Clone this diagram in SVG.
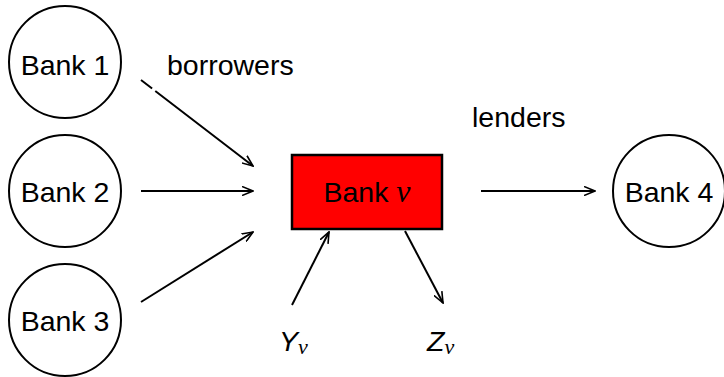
<svg xmlns="http://www.w3.org/2000/svg" width="724" height="377" viewBox="0 0 724 377">
<style>
.node circle{fill:#fff;stroke:#000;stroke-width:2}
.lbl{font-family:"Liberation Sans",Arial,sans-serif;font-size:28.5px;fill:#000}
.conn line{stroke:#000;stroke-width:2;marker-end:url(#ah)}
.nu{font-family:"Liberation Serif","Times New Roman",serif;font-style:italic}
</style>
<defs>
<marker id="ah" viewBox="0 0 12 10" refX="11" refY="5" markerWidth="12" markerHeight="10" markerUnits="userSpaceOnUse" orient="auto">
<path d="M0,0.5 L11,5 L0,9.5" fill="none" stroke="#000" stroke-width="1.6"/>
</marker>
</defs>
<rect width="724" height="377" fill="#fff"/>
<g id="bank1" class="node"><circle cx="65" cy="62" r="56"/><text class="lbl" x="65" y="75" text-anchor="middle">Bank 1</text></g>
<g id="bank2" class="node"><circle cx="65" cy="191" r="56"/><text class="lbl" x="65" y="202" text-anchor="middle">Bank 2</text></g>
<g id="bank3" class="node"><circle cx="65" cy="320" r="56"/><text class="lbl" x="65" y="331" text-anchor="middle">Bank 3</text></g>
<g id="bank4" class="node"><circle cx="669" cy="191" r="56"/><text class="lbl" x="669" y="202" text-anchor="middle">Bank 4</text></g>
<g id="bankv"><rect x="292" y="155" width="150" height="74" fill="#f00" stroke="#000" stroke-width="2.5"/><text class="lbl" x="367" y="202" text-anchor="middle">Bank <tspan class="nu" font-size="32">ν</tspan></text></g>
<g id="conns" class="conn">
<line x1="141" y1="80" x2="253" y2="166" stroke-dasharray="14 4 300"/>
<line x1="141" y1="191" x2="253" y2="191"/>
<line x1="141" y1="302" x2="253" y2="232"/>
<line x1="481" y1="191" x2="595" y2="191"/>
<line x1="292" y1="305" x2="329" y2="232"/>
<line x1="405" y1="231" x2="443" y2="303"/>
</g>
<text class="lbl" x="167" y="75">borrowers</text>
<text class="lbl" x="472" y="127">lenders</text>
<text class="lbl" x="279" y="351" font-style="italic">Y<tspan class="nu" font-size="22" dy="3">ν</tspan></text>
<text class="lbl" x="427" y="351" font-style="italic">Z<tspan class="nu" font-size="22" dy="3">ν</tspan></text>
</svg>
